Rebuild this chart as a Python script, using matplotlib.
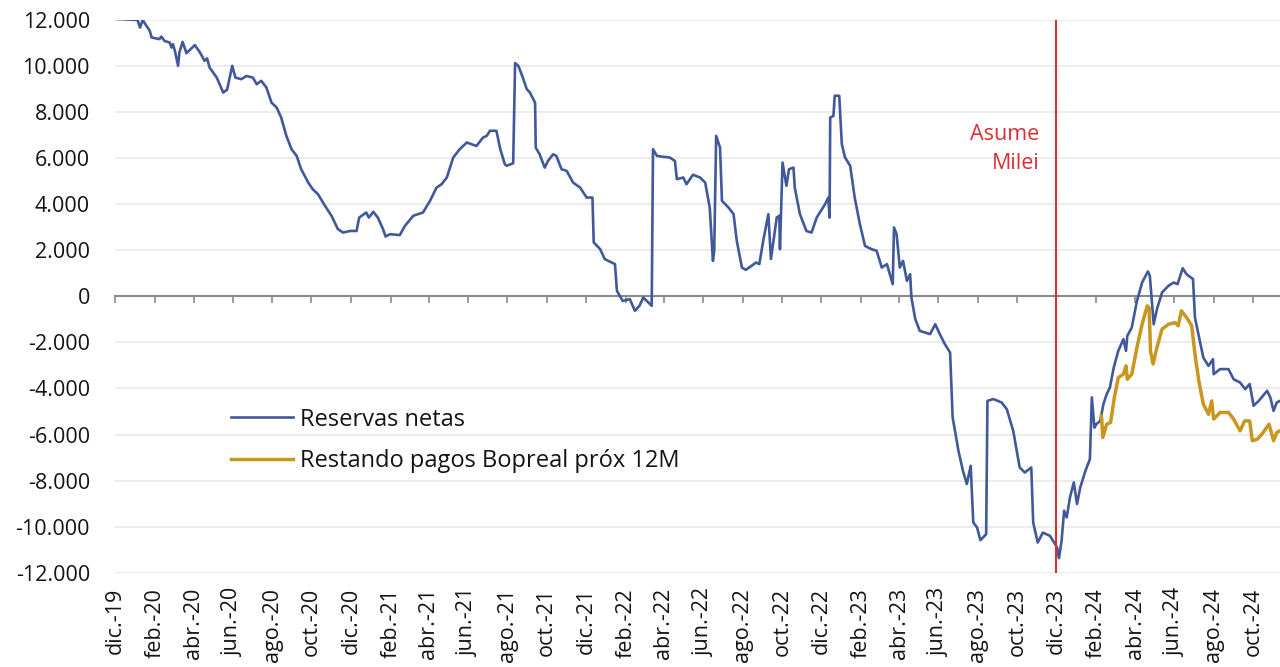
import matplotlib
matplotlib.use("Agg")
import matplotlib.pyplot as plt
import matplotlib.dates as mdates
from matplotlib.ticker import FuncFormatter
import pandas as pd

# Reservas netas del BCRA (USD millones)
reservas_fechas = [
    "2019-12-01", "2019-12-21", "2020-01-05", "2020-01-09", "2020-01-13", "2020-01-24", "2020-01-27",
    "2020-02-08", "2020-02-11", "2020-02-16", "2020-02-24", "2020-02-27", "2020-02-29", "2020-03-03",
    "2020-03-08", "2020-03-10", "2020-03-15", "2020-03-21", "2020-04-03", "2020-04-11", "2020-04-18",
    "2020-04-22", "2020-04-26", "2020-05-07", "2020-05-17", "2020-05-23", "2020-05-31", "2020-06-05",
    "2020-06-14", "2020-06-22", "2020-07-02", "2020-07-08", "2020-07-15", "2020-07-23", "2020-07-31",
    "2020-08-08", "2020-08-15", "2020-08-23", "2020-08-31", "2020-09-08", "2020-09-15", "2020-09-26",
    "2020-10-03", "2020-10-11", "2020-10-22", "2020-11-01", "2020-11-11", "2020-11-19", "2020-11-30",
    "2020-12-10", "2020-12-14", "2020-12-25", "2020-12-29", "2021-01-05", "2021-01-12", "2021-01-20",
    "2021-01-24", "2021-01-31", "2021-02-15", "2021-02-23", "2021-03-08", "2021-03-23", "2021-04-03",
    "2021-04-13", "2021-04-21", "2021-04-29", "2021-05-09", "2021-05-19", "2021-05-30", "2021-06-14",
    "2021-06-24", "2021-06-30", "2021-07-05", "2021-07-15", "2021-07-21", "2021-07-28", "2021-07-31",
    "2021-08-10", "2021-08-13", "2021-08-18", "2021-08-25", "2021-08-31", "2021-09-05", "2021-09-13",
    "2021-09-14", "2021-09-20", "2021-09-28", "2021-10-03", "2021-10-11", "2021-10-16", "2021-10-24",
    "2021-11-01", "2021-11-11", "2021-11-22", "2021-12-02", "2021-12-11", "2021-12-13", "2021-12-23",
    "2021-12-30", "2022-01-15", "2022-01-18", "2022-01-27", "2022-02-07", "2022-02-15", "2022-02-22",
    "2022-02-28", "2022-03-13", "2022-03-15", "2022-03-21", "2022-03-31", "2022-04-10", "2022-04-18",
    "2022-04-21", "2022-05-01", "2022-05-06", "2022-05-16", "2022-05-27", "2022-06-04", "2022-06-11",
    "2022-06-16", "2022-06-18", "2022-06-21", "2022-06-27", "2022-06-30", "2022-07-10", "2022-07-18",
    "2022-07-23", "2022-07-31", "2022-08-06", "2022-08-22", "2022-08-27", "2022-09-02", "2022-09-10",
    "2022-09-14", "2022-09-23", "2022-09-27", "2022-09-28", "2022-10-02", "2022-10-08", "2022-10-12",
    "2022-10-19", "2022-10-21", "2022-10-29", "2022-11-08", "2022-11-16", "2022-11-24", "2022-12-07",
    "2022-12-12", "2022-12-14", "2022-12-15", "2022-12-20", "2022-12-22", "2022-12-29", "2023-01-02",
    "2023-01-07", "2023-01-15", "2023-01-22", "2023-01-30", "2023-02-07", "2023-02-17", "2023-02-25",
    "2023-03-05", "2023-03-13", "2023-03-22", "2023-03-24", "2023-03-28", "2023-04-02", "2023-04-07",
    "2023-04-13", "2023-04-18", "2023-04-20", "2023-04-26", "2023-05-03", "2023-05-19", "2023-05-27",
    "2023-06-03", "2023-06-11", "2023-06-19", "2023-06-23", "2023-07-02", "2023-07-09", "2023-07-15",
    "2023-07-21", "2023-07-25", "2023-07-31", "2023-08-05", "2023-08-14", "2023-08-16", "2023-08-25",
    "2023-09-07", "2023-09-15", "2023-09-25", "2023-10-05", "2023-10-13", "2023-10-23", "2023-10-26",
    "2023-11-02", "2023-11-10", "2023-11-21", "2023-11-29", "2023-12-02", "2023-12-05", "2023-12-09",
    "2023-12-13", "2023-12-17", "2023-12-22", "2023-12-28", "2024-01-02", "2024-01-07", "2024-01-15",
    "2024-01-22", "2024-01-25", "2024-01-29", "2024-02-01", "2024-02-07", "2024-02-12", "2024-02-17",
    "2024-02-22", "2024-02-28", "2024-03-06", "2024-03-14", "2024-03-18", "2024-03-20", "2024-03-27",
    "2024-04-04", "2024-04-12", "2024-04-21", "2024-04-24", "2024-04-30", "2024-05-05", "2024-05-13",
    "2024-05-23", "2024-05-31", "2024-06-06", "2024-06-14", "2024-06-20", "2024-06-30", "2024-07-03",
    "2024-07-09", "2024-07-16", "2024-07-24", "2024-07-31", "2024-08-01", "2024-08-11", "2024-08-24",
    "2024-09-01", "2024-09-11", "2024-09-19", "2024-09-26", "2024-10-02", "2024-10-10", "2024-10-23",
    "2024-10-28", "2024-11-02", "2024-11-07", "2024-11-12",
]
reservas_valores = [
    12050, 12020, 12000, 11670, 12000, 11530, 11240,
    11170, 11280, 11090, 11020, 10800, 10950, 10660,
    10010, 10590, 11050, 10560, 10910, 10590, 10230,
    10330, 9930, 9500, 8850, 8970, 10010, 9500,
    9430, 9570, 9500, 9210, 9360, 9070, 8410,
    8200, 7760, 6970, 6390, 6100, 5520, 4940,
    4650, 4440, 3930, 3500, 2920, 2770, 2840,
    2840, 3420, 3640, 3420, 3670, 3420, 2920,
    2600, 2700, 2660, 3060, 3500, 3640, 4150,
    4720, 4870, 5160, 6030, 6390, 6680, 6530,
    6890, 6970, 7190, 7190, 6390, 5740, 5670,
    5780, 10130, 10010, 9500, 9000, 8850, 8410,
    6460, 6170, 5590, 5880, 6170, 6100, 5520,
    5450, 4940, 4720, 4290, 4290, 2340, 2050,
    1620, 1400, 240, -200, -120, -630, -410,
    -50, -410, 6390, 6100, 6060, 6030, 5880,
    5090, 5160, 4870, 5280, 5160, 4940, 3860,
    1540, 1980, 6970, 6460, 4150, 3860, 3570,
    2410, 1250, 1150, 1470, 1400, 2410, 3570,
    1620, 3420, 3500, 2050, 5810, 4800, 5520,
    5590, 4720, 3570, 2840, 2770, 3420, 4000,
    4290, 3420, 7760, 7840, 8710, 8710, 6610,
    6030, 5670, 4290, 3140, 2190, 2050, 1980,
    1250, 1400, 530, 2990, 2700, 1250, 1540,
    670, 960, -50, -990, -1500, -1640, -1210,
    -1640, -2080, -2440, -5260, -6710, -7580, -8150,
    -7360, -9820, -10040, -10590, -10330, -4540, -4460,
    -4610, -4900, -5840, -7430, -7650, -7430, -9820,
    -10690, -10260, -10400, -10760, -10910, -11370, -10620,
    -9310, -9600, -8740, -8080, -9020, -8300, -7580,
    -7070, -4390, -5700, -5550, -5410, -4680, -4250,
    -3960, -3090, -2370, -1860, -2370, -1720, -1350,
    -200, 600, 1080, 890, -1210, -560, 170,
    460, 600, 530, 1220, 960, 750, -920,
    -1720, -2660, -3020, -2730, -3380, -3160, -3160,
    -3600, -3740, -4030, -3810, -4750, -4540, -4100,
    -4390, -4970, -4610, -4540,
]

# Reservas netas restando pagos de Bopreal de los proximos 12 meses
bopreal_fechas = [
    "2024-02-09", "2024-02-11", "2024-02-17", "2024-02-23", "2024-02-29", "2024-03-06", "2024-03-14",
    "2024-03-18", "2024-03-20", "2024-03-27", "2024-04-04", "2024-04-12", "2024-04-20", "2024-04-23",
    "2024-04-25", "2024-04-29", "2024-05-05", "2024-05-13", "2024-05-23", "2024-06-02", "2024-06-07",
    "2024-06-12", "2024-06-20", "2024-06-28", "2024-07-03", "2024-07-09", "2024-07-16", "2024-07-24",
    "2024-07-29", "2024-08-01", "2024-08-11", "2024-08-24", "2024-09-01", "2024-09-11", "2024-09-18",
    "2024-09-26", "2024-09-30", "2024-10-08", "2024-10-15", "2024-10-26", "2024-11-02", "2024-11-07",
    "2024-11-12",
]
bopreal_valores = [
    -5190, -6130, -5550, -5480, -4390, -3530, -3380,
    -3020, -3600, -3380, -2220, -1210, -410, -500,
    -2370, -2940, -2220, -1420, -1210, -1140, -1280,
    -630, -920, -1280, -2510, -3670, -4680, -5120,
    -4540, -5330, -5040, -5040, -5330, -5840, -5410,
    -5410, -6270, -6200, -5980, -5550, -6270, -5910,
    -5840,
]

meses = {1: "ene.", 2: "feb.", 3: "mar.", 4: "abr.", 5: "may.", 6: "jun.",
         7: "jul.", 8: "ago.", 9: "sep.", 10: "oct.", 11: "nov.", 12: "dic."}
tick_fechas = pd.date_range("2019-12-01", "2024-10-01", freq="2MS")
tick_labels = [f"{meses[d.month]}-{d.strftime('%y')}" for d in tick_fechas]

fecha_milei = pd.Timestamp("2023-12-01")
x_ini, x_fin = pd.Timestamp("2019-12-01"), pd.Timestamp("2024-11-12")

# **********************************************************************

plt.rcParams["font.family"] = ["Open Sans", "DejaVu Sans"]

azul = "#41599b"
dorado = "#c9961f"
rojo = "#dc2f34"
texto = "#141414"

fig = plt.figure(figsize=(12.8, 6.67), dpi=100)
ax = fig.add_axes([0.0898, 0.1414, 0.9102, 0.8286])

ax.plot(pd.to_datetime(reservas_fechas), reservas_valores, color=azul, lw=1.9,
        label="Reservas netas", zorder=3)
ax.plot(pd.to_datetime(bopreal_fechas), bopreal_valores, color=dorado, lw=2.5,
        label="Restando pagos Bopreal próx 12M", zorder=4)

ax.axvline(fecha_milei, color=rojo, lw=1.5, zorder=5)
ax.annotate("Asume\nMilei", xy=(fecha_milei, 6400), xytext=(-12, 0),
            textcoords="offset points", ha="right", va="center",
            multialignment="right", color=rojo, fontsize=15.5, linespacing=1.5)

ax.set_xlim(x_ini, x_fin)
ax.set_ylim(-12000, 12000)
ax.set_yticks(range(-12000, 12001, 2000))
ax.yaxis.set_major_formatter(FuncFormatter(lambda v, p: f"{v:,.0f}".replace(",", ".")))
ax.grid(axis="y", color="#ebebeb", lw=1.3)
ax.set_axisbelow(True)

for s in ["left", "top", "right"]:
    ax.spines[s].set_visible(False)
ax.spines["bottom"].set_position(("data", 0))
ax.spines["bottom"].set_color("#8a8a8a")
ax.spines["bottom"].set_linewidth(1.5)
ax.spines["bottom"].set_zorder(2)

ticks_num = mdates.date2num(tick_fechas)
ax.set_xticks(ticks_num)
ax.tick_params(axis="x", direction="out", length=5, width=1.2, color="#8a8a8a",
               labelbottom=False)
ax.tick_params(axis="y", length=0, pad=18, labelsize=15.5, labelcolor=texto)

# etiquetas del eje x abajo del grafico
sec = ax.secondary_xaxis("bottom")
sec.set_xticks(ticks_num)
sec.set_xticklabels(tick_labels, rotation=90)
sec.tick_params(length=0, pad=11, labelsize=15.5, labelcolor=texto)
sec.spines["bottom"].set_visible(False)

leg = ax.legend(loc="center left", bbox_to_anchor=(0.1, 0.239), frameon=False,
                fontsize=17, handlelength=2.6, handletextpad=0.3,
                labelspacing=0.75, borderpad=0, borderaxespad=0)
for t in leg.get_texts():
    t.set_color(texto)

fig.savefig("out.png", dpi=100)
